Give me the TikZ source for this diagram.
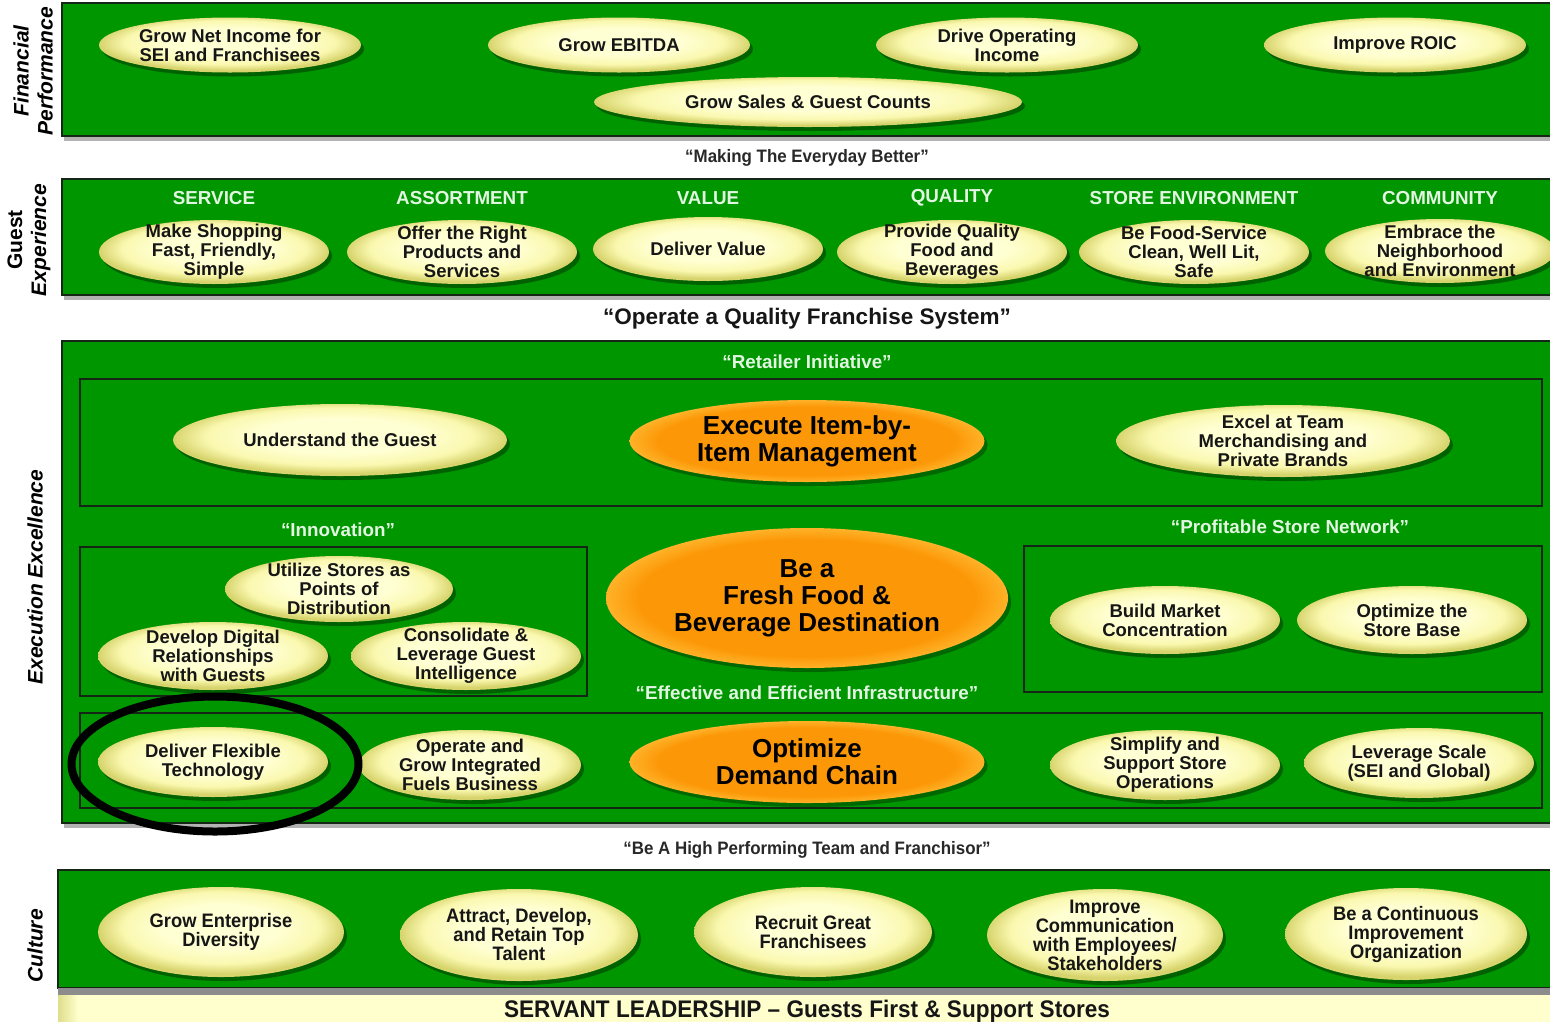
\documentclass[tikz,border=0pt]{standalone}
\usepackage{fontspec}
\setmainfont{Liberation Sans}
\newfontfamily\narrowfont[FakeStretch=0.94]{Liberation Sans}
\usetikzlibrary{shapes.geometric,shadows}

\definecolor{panelgreen}{RGB}{0,150,0}
\definecolor{paneledge}{RGB}{22,38,22}
\definecolor{headtext}{RGB}{226,246,226}
\definecolor{ovalin}{RGB}{255,255,212}
\definecolor{ovalmid}{RGB}{250,248,175}
\definecolor{ovalout}{RGB}{215,212,110}
\definecolor{orangein}{RGB}{252,152,8}
\definecolor{orangeout}{RGB}{255,178,40}
\definecolor{inktext}{RGB}{22,22,22}
\definecolor{captext}{RGB}{40,40,40}
\definecolor{barin}{RGB}{255,255,205}
\definecolor{barout}{RGB}{222,222,140}

\pgfdeclareradialshading{ovalglow}{\pgfpoint{0bp}{4bp}}{%
  color(0bp)=(ovalin); color(12bp)=(ovalin); color(20bp)=(ovalmid);
  color(25bp)=(ovalout); color(50bp)=(ovalout)}
\pgfdeclareradialshading{orangeglow}{\pgfpoint{0bp}{0bp}}{%
  color(0bp)=(orangein); color(21bp)=(orangein);
  color(25bp)=(orangeout); color(50bp)=(orangeout)}

\tikzset{
  panel/.style={fill=panelgreen, draw=paneledge, line width=2pt},
  panelshadow/.style={fill=black!30},
  subbox/.style={draw=paneledge, line width=1.6pt},
  yoval/.style={ellipse, inner sep=0pt, shading=ovalglow,
    drop shadow={shadow xshift=3pt, shadow yshift=-4pt, fill=black, opacity=0.35}},
  yovaltext/.style={align=center, inner sep=0pt, text=inktext,
    font=\fontsize{18.5}{19}\selectfont\bfseries},
  coval/.style={yoval},
  covaltext/.style={align=center, inner sep=0pt, text=inktext,
    font=\narrowfont\fontsize{19.5}{19}\selectfont\bfseries},
  ooval/.style={ellipse, inner sep=0pt, shading=orangeglow,
    drop shadow={shadow xshift=3pt, shadow yshift=-4pt, fill=black, opacity=0.3}},
  oovaltext/.style={align=center, inner sep=0pt, text=black,
    font=\fontsize{26}{27}\selectfont\bfseries},
  header/.style={text=headtext, inner sep=0pt,
    font=\fontsize{18.8}{20}\selectfont\bfseries},
  caption/.style={text=captext, inner sep=0pt,
    font=\narrowfont\fontsize{18}{20}\selectfont\bfseries},
  sidelabel/.style={rotate=90, align=center, inner sep=0pt, text=black,
    font=\fontsize{21}{24}\selectfont\bfseries\itshape},
}

% oval goal: style, name, x, y, width, height, text
\newcommand\goaloval[7]{%
  \node[#1, minimum width=#5pt, minimum height=#6pt] (#2) at (#3,#4) {};
  \node[#1text] (#2-t) at (#2.center) {#7};}

\begin{document}
\begin{tikzpicture}[x=1pt, y=-1pt]
\useasboundingbox (0,0) rectangle (1550,1021);
\fill[white] (0,0) rectangle (1550,1021);
\clip (0,0) rectangle (1550,1021);

% ---------- Financial performance ----------
\fill[panelshadow] (64,7) rectangle (1560,141);
\path[panel] (62,3) rectangle (1560,136);
\node[sidelabel] (finlabel) at (33,71) {Financial\\Performance};
\goaloval{yoval}{f1}{230}{45}{262}{55}{Grow Net Income for\\SEI and Franchisees}
\goaloval{yoval}{f2}{619}{45}{262}{55}{Grow EBITDA}
\goaloval{yoval}{f3}{1007}{45}{262}{55}{Drive Operating\\Income}
\goaloval{yoval}{f4}{1395}{45}{262}{55}{Improve ROIC}
\goaloval{yoval}{f5}{808}{102}{428}{50}{Grow Sales \& Guest Counts}

\node[caption] (cap1) at (807,158) {“Making The Everyday Better”};

% ---------- Guest experience ----------
\fill[panelshadow] (64,183) rectangle (1560,300);
\path[panel] (62,179) rectangle (1560,295);
\node[sidelabel] (guestlabel) at (29,240) {\upshape Guest\\Experience};
\node[header] (h1) at (214,198) {SERVICE};
\node[header] (h2) at (462,198) {ASSORTMENT};
\node[header] (h3) at (708,198) {VALUE};
\node[header] (h4) at (952,198) {QUALITY};
\node[header] (h5) at (1194,198) {STORE ENVIRONMENT};
\node[header] (h6) at (1440,198) {COMMUNITY};
\goaloval{yoval}{g1}{214}{252}{230}{64}{Make Shopping\\Fast, Friendly,\\Simple}
\goaloval{yoval}{g2}{462}{252}{230}{64}{Offer the Right\\Products and\\Services}
\goaloval{yoval}{g3}{708}{249}{230}{64}{Deliver Value}
\goaloval{yoval}{g4}{952}{252}{230}{64}{Provide Quality\\Food and\\Beverages}
\goaloval{yoval}{g5}{1194}{252}{230}{64}{Be Food-Service\\Clean, Well Lit,\\Safe}
\goaloval{yoval}{g6}{1440}{251}{230}{64}{Embrace the\\Neighborhood\\and Environment}

\node[text=inktext, inner sep=0pt, font=\fontsize{22.5}{24}\selectfont\bfseries]
  (cap2) at (807,319) {“Operate a Quality Franchise System”};

% ---------- Execution excellence ----------
\fill[panelshadow] (64,345) rectangle (1560,828);
\path[panel] (62,341) rectangle (1560,823);
\node[sidelabel] (execlabel) at (35,577) {Execution Excellence};

\node[header] (retail) at (807,362) {“Retailer Initiative”};
\path[subbox] (80,379) rectangle (1542,506);
\goaloval{yoval}{e1}{340}{440}{334}{72}{Understand the Guest}
\goaloval{ooval}{e2}{807}{441}{355}{82}{Execute Item-by-\\Item Management}
\goaloval{yoval}{e3}{1283}{441}{334}{72}{Excel at Team\\Merchandising and\\Private Brands}

\node[header] (innov) at (338,530) {“Innovation”};
\path[subbox] (80,547) rectangle (587,696);
\goaloval{yoval}{i1}{339}{589}{228}{66}{Utilize Stores as\\Points of\\Distribution}
\goaloval{yoval}{i2}{213}{656}{230}{68}{Develop Digital\\Relationships\\with Guests}
\goaloval{yoval}{i3}{466}{656}{230}{68}{Consolidate \&\\Leverage Guest\\Intelligence}

\goaloval{ooval}{fresh}{807}{598}{402}{140}{Be a\\Fresh Food \&\\Beverage Destination}

\node[header] (profit) at (1290,527) {“Profitable Store Network”};
\path[subbox] (1024,546) rectangle (1542,692);
\goaloval{yoval}{p1}{1165}{620}{230}{68}{Build Market\\Concentration}
\goaloval{yoval}{p2}{1412}{620}{230}{68}{Optimize the\\Store Base}

\node[header] (infra) at (807,693) {“Effective and Efficient Infrastructure”};
\path[subbox] (80,713) rectangle (1542,808);
\goaloval{yoval}{r1}{213}{762}{230}{70}{Deliver Flexible\\Technology}
\goaloval{yoval}{r2}{470}{765}{222}{70}{Operate and\\Grow Integrated\\Fuels Business}
\goaloval{ooval}{r3}{807}{762}{355}{82}{Optimize\\Demand Chain}
\goaloval{yoval}{r4}{1165}{765}{230}{70}{Simplify and\\Support Store\\Operations}
\goaloval{yoval}{r5}{1419}{763}{230}{70}{Leverage Scale\\(SEI and Global)}

% highlight ring around one goal
\node[ellipse, draw=black, line width=8pt, minimum width=287pt,
  minimum height=135pt, inner sep=0pt] (highlight) at (215,764) {};

\node[caption] (cap3) at (807,850) {“Be A High Performing Team and Franchisor”};

% ---------- Culture ----------
\fill[panelshadow] (60,874) rectangle (1560,995);
\path[panel] (58,870) rectangle (1560,988);
\node[sidelabel] (culturelabel) at (35,946) {Culture};
\goaloval{coval}{c1}{221}{932}{246}{90}{Grow Enterprise\\Diversity}
\goaloval{coval}{c2}{519}{935}{238}{92}{Attract, Develop,\\and Retain Top\\Talent}
\goaloval{coval}{c3}{813}{932}{238}{90}{Recruit Great\\Franchisees}
\goaloval{coval}{c4}{1105}{935}{236}{92}{Improve\\Communication\\with Employees/\\Stakeholders}
\goaloval{coval}{c5}{1406}{934}{242}{92}{Be a Continuous\\Improvement\\Organization}

% ---------- Servant leadership bar ----------
\fill[black!45] (58,988) rectangle (1560,995);
\fill[barin] (58,995) rectangle (1560,1025);
\shade[left color=barout, right color=barin] (58,995) rectangle (78,1025);
\node[inner sep=0pt, text=inktext, font=\narrowfont\fontsize{24}{26}\selectfont\bfseries]
  (servant) at (807,1011) {SERVANT LEADERSHIP – Guests First \& Support Stores};
\end{tikzpicture}
\end{document}
